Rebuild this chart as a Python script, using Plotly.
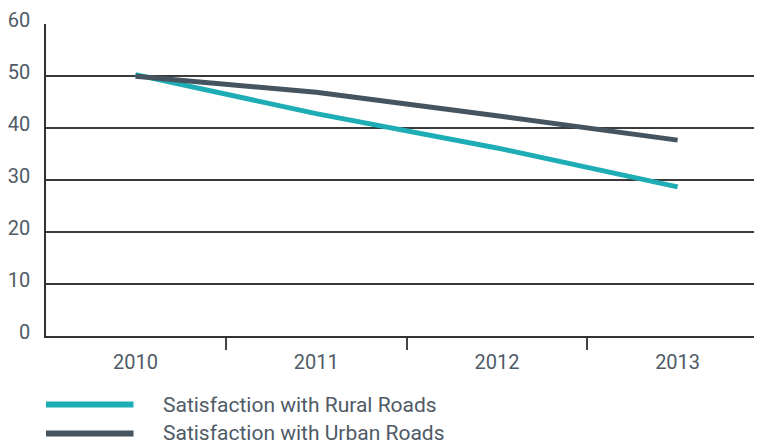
import plotly.graph_objects as go

years = ["2010", "2011", "2012", "2013"]
rural = [50.3, 42.8, 36.2, 28.7]
urban = [50.0, 46.9, 42.4, 37.7]
series_names = ["Satisfaction with Rural Roads", "Satisfaction with Urban Roads"]
series_values = [rural, urban]
series_colors = ["#1fadb5", "#46545f"]
y_ticks = [0, 10, 20, 30, 40, 50, 60]

# page body has an 8px default margin, so the figure is offset by 8px
OFF = 8
W, H = 762 - OFF, 446 - OFF
ML, MR, MT, MB = 42 - OFF, 0, 22 - OFF, 446 - 336
TEXT = "#4f5b66"
FONT = "Roboto"

xs = list(range(len(years)))
fig = go.Figure()
for name, vals, col in zip(series_names, series_values, series_colors):
    fig.add_trace(go.Scatter(x=xs, y=vals, mode="lines", name=name,
                             line=dict(color=col, width=5), showlegend=False))

# manual legend (long line swatches)
pw = W - ML - MR
ph = H - MT - MB
def px_to_paper_x(px):
    return (px - OFF - ML) / pw
def py_to_paper_y(py):
    return (H - MB - (py - OFF)) / ph

leg_rows = [405, 434]
for name, col, py in zip(series_names, series_colors, leg_rows):
    yp = py_to_paper_y(py)
    fig.add_shape(type="line", xref="paper", yref="paper",
                  x0=px_to_paper_x(42), x1=px_to_paper_x(130), y0=yp, y1=yp,
                  line=dict(color=col, width=6))
    fig.add_annotation(xref="paper", yref="paper", x=px_to_paper_x(158), y=yp,
                       text=name, showarrow=False, xanchor="left", yanchor="middle",
                       font=dict(family=FONT, size=21, color=TEXT))

fig.update_layout(
    width=W, height=H,
    margin=dict(l=ML, r=MR, t=MT, b=MB),
    paper_bgcolor="white", plot_bgcolor="white",
    font=dict(family=FONT, size=20, color=TEXT),
    showlegend=False,
    xaxis=dict(
        range=[-0.495, 3.467],
        tickvals=xs, ticktext=years, ticks="",
        showgrid=False, zeroline=False,
        showline=True, linecolor="#333333", linewidth=1.5,
        ticklabelstandoff=7,
        minor=dict(tickvals=[i + 0.5 for i in xs[:-1]], ticks="outside",
                   ticklen=12, tickwidth=2, tickcolor="#444444", showgrid=False),
        tickfont=dict(size=20, color=TEXT),
    ),
    yaxis=dict(
        range=[0, 60.05], tickvals=y_ticks,
        showgrid=True, gridcolor="#3a3a3a", gridwidth=1.5,
        zeroline=False,
        showline=True, linecolor="#333333", linewidth=1.5,
        ticks="", ticklabelstandoff=10, ticklabelshift=-4,
        ticklabeloverflow="allow",
        tickfont=dict(size=20, color=TEXT),
    ),
)

fig.write_html("out.html")
